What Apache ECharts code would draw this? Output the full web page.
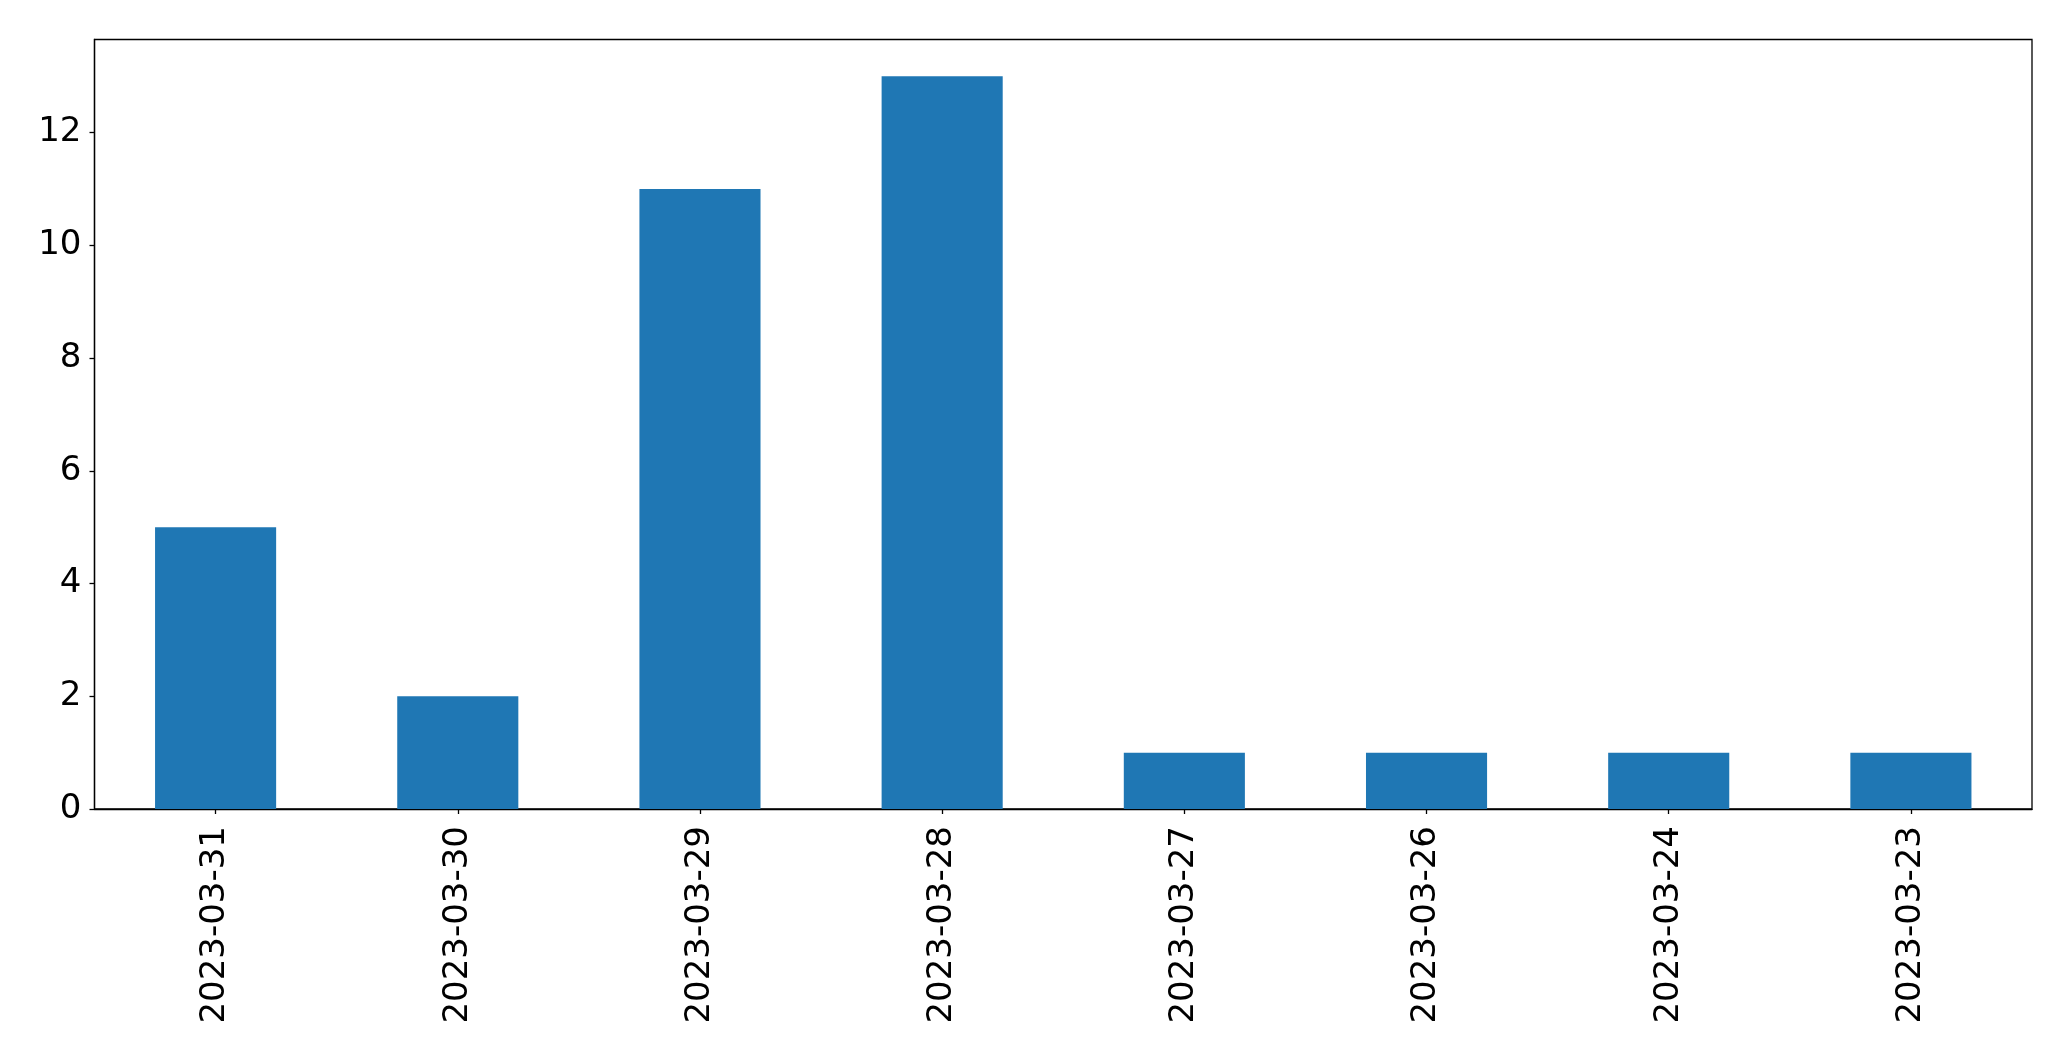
<!DOCTYPE html>
<html>
<head>
<meta charset="utf-8">
<script src="https://cdn.jsdelivr.net/npm/echarts@6/dist/echarts.min.js"></script>
<style>html,body{margin:0;padding:0;background:#fff;}#c{width:2071px;height:1061px;}</style>
</head>
<body>
<div id="c"></div>
<script>
const categories = ['2023-03-31','2023-03-30','2023-03-29','2023-03-28','2023-03-27','2023-03-26','2023-03-24','2023-03-23'];
const counts = [5, 2, 11, 13, 1, 1, 1, 1];
const yTicks = [0, 2, 4, 6, 8, 10, 12];

const chart = echarts.init(document.getElementById('c'), null, {renderer: 'canvas'});
const font = 'DejaVu Sans';
chart.setOption({
  animation: false,
  grid: {left: 94.5, top: 39.5, right: 39, bottom: 252, show: true, borderColor: '#000', borderWidth: 1.3, backgroundColor: 'transparent'},
  xAxis: {
    type: 'category',
    data: categories,
    boundaryGap: true,
    axisLine: {show: true, lineStyle: {color: '#000', width: 1.3}},
    axisTick: {show: true, alignWithLabel: true, length: 5, lineStyle: {color: '#000', width: 1.3}},
    axisLabel: {rotate: 90, margin: 17, color: '#000', fontFamily: font, fontSize: 34, interval: 0}
  },
  yAxis: {
    type: 'value',
    min: 0, max: 13.65, interval: 2,
    splitLine: {show: false},
    axisLine: {show: true, lineStyle: {color: '#000', width: 1.3}},
    axisTick: {show: true, length: 5, customValues: yTicks, lineStyle: {color: '#000', width: 1.3}},
    axisLabel: {margin: 13, color: '#000', fontFamily: font, fontSize: 34, customValues: yTicks,
      formatter: v => yTicks.includes(v) ? String(v) : ''}
  },
  series: [{
    type: 'bar',
    data: counts,
    barWidth: '50%',
    itemStyle: {color: '#1f77b4'}
  }]
});
</script>
</body>
</html>
